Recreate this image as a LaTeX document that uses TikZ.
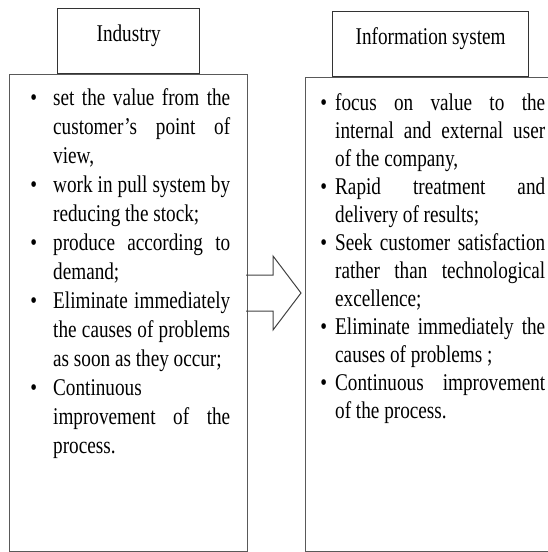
\documentclass[tikz,border=0pt]{standalone}
\usepackage{fontspec}
\setmainfont[FakeStretch=0.8]{Liberation Serif}
\usetikzlibrary{positioning}
\hyphenpenalty=10000
\exhyphenpenalty=10000

\newcommand{\leftdot}{\leavevmode\llap{\textbullet\hspace{16pt}}}
\newcommand{\rightdot}{\leavevmode\llap{\textbullet\hspace{8pt}}}

\begin{document}
\begin{tikzpicture}[x=1pt,y=-1pt,font=\fontsize{24pt}{29pt}\selectfont,
        listbox/.style={draw=black!65,line width=1.3pt,inner sep=0pt,anchor=north west},
        titlebox/.style={draw=black!80,line width=1pt,inner sep=0pt,text height=33pt,text depth=32pt},
        itemtext/.style={inner sep=0pt,anchor=base west,align=justify},
        blockarrow/.style={draw=black!75,line width=1pt,line join=miter}]
    \useasboundingbox (0,0) rectangle (547,552);
        \node[listbox,minimum width=238pt,minimum height=477pt] (indbox) at (9,74) {};
        \node[listbox,minimum width=250pt,minimum height=474pt] (infbox) at (305,77) {};
        \node[titlebox,minimum width=142pt,above=0pt of indbox] (indtitle) {Industry};
        \node[titlebox,minimum width=196pt,above=0pt of infbox] (inftitle) {Information system};
        \node[itemtext,text width=177pt] (indtext) at (53,105) {%
            \leftdot set the value from the\linebreak customer's point of\linebreak view,\par
            \leftdot work in pull system by\linebreak reducing the stock;\par
            \leftdot produce according to\linebreak demand;\par
            \leftdot Eliminate immediately\linebreak the causes of problems\linebreak as soon as they occur;\par
            \leftdot Continuous\hfill\break improvement of the\linebreak process.};
        \node[itemtext,text width=210pt,font=\fontsize{24pt}{28pt}\selectfont] (inftext) at (335,110) {%
            \rightdot focus on value to the\linebreak internal and external user\linebreak of the company,\par
            \rightdot Rapid treatment and\linebreak delivery of results;\par
            \rightdot Seek customer satisfaction\linebreak rather than technological\linebreak excellence;\par
            \rightdot Eliminate immediately the\linebreak causes of problems ;\par
            \rightdot Continuous improvement\linebreak of the process.};
        \draw[blockarrow] (246,275) -- (273,275) -- (273,256) -- (301,293) -- (273,330) -- (273,311) -- (246,311);
\end{tikzpicture}
\end{document}
